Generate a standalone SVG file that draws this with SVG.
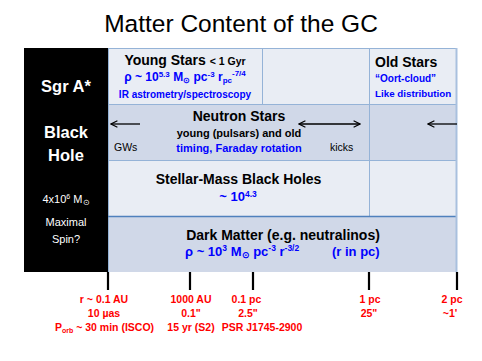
<svg xmlns="http://www.w3.org/2000/svg" width="482" height="361" viewBox="0 0 482 361">
<defs>
<style>
text{font-family:"Liberation Sans",Arial,sans-serif}
.b{font-weight:bold}
.blk{fill:#000}
.blu{fill:#0000ff;font-weight:bold}
.red{fill:#ff0000;font-weight:bold;font-size:10.5px;text-anchor:middle}
.wht{fill:#fff}
.lt{fill:#e9edf4}
.dk{fill:#d0d8e8}
.grid{stroke:#95b3d7;stroke-width:1;fill:none}
.tick{stroke:#000;stroke-width:2.2}
.arr{stroke:#000;stroke-width:1.3;fill:none}
.m{text-anchor:middle}
</style>
<marker id="ah" viewBox="0 0 10 10" refX="9" refY="5" markerWidth="8" markerHeight="8" orient="auto-start-reverse" markerUnits="userSpaceOnUse">
<path d="M1,1 L9,5 L1,9" fill="none" stroke="#000" stroke-width="1.4"/>
</marker>
</defs>
<rect width="482" height="361" fill="#fff"/>
<text x="241" y="32" font-size="24.5" text-anchor="middle" fill="#000">Matter Content of the GC</text>

<g id="table-bg">
<rect class="lt" x="108" y="48" width="349" height="57"/>
<rect class="dk" x="108" y="105" width="349" height="56"/>
<rect class="lt" x="108" y="161" width="349" height="55"/>
<rect class="dk" x="108" y="216" width="349" height="56"/>
<path class="grid" d="M24,48.5H457 M108,104.5H457 M108,160.5H457 M262.5,48V105 M369.5,48V216 M24.5,48V272 M108.5,48V272"/>
<path d="M108,216.5H457" stroke="#4f81bd" stroke-width="1.5"/>
<path d="M456.5,48V272" stroke="#a9c0de" stroke-width="2"/>
</g>

<g id="sgr-a">
<rect x="24" y="48" width="84" height="224" fill="#000"/>
<text class="wht b m" x="66" y="92" font-size="16.5">Sgr A*</text>
<text class="wht b m" x="66" y="138" font-size="16.5">Black</text>
<text class="wht b m" x="66" y="161" font-size="16.5">Hole</text>
<text class="wht m" x="66" y="203" font-size="11">4x10<tspan font-size="7" dy="-4">6</tspan><tspan dy="4"> M</tspan><tspan font-size="8" dy="2">⊙</tspan></text>
<text class="wht m" x="66" y="226" font-size="11">Maximal</text>
<text class="wht m" x="66" y="243" font-size="11">Spin?</text>
</g>

<g id="young-stars">
<text class="blk b m" x="185" y="65" font-size="14">Young Stars <tspan font-size="10.5">&lt; 1 Gyr</tspan></text>
<text class="blu m" x="185" y="81" font-size="12">ρ ~ 10<tspan font-size="8" dy="-4">5.3</tspan><tspan dy="4"> M</tspan><tspan font-size="8" dy="2">⊙</tspan><tspan dy="-2"> pc</tspan><tspan font-size="8" dy="-4">-3</tspan><tspan dy="4"> r</tspan><tspan font-size="8" dy="2">pc</tspan><tspan font-size="8" dy="-7">-7/4</tspan></text>
<text class="blu m" x="185" y="98" font-size="10">IR astrometry/spectroscopy</text>
</g>

<g id="old-stars">
<text class="blk b" x="375" y="67" font-size="14">Old Stars</text>
<text class="blu" x="375" y="82" font-size="10">“Oort-cloud”</text>
<text class="blu" x="375" y="97" font-size="9.8">Like distribution</text>
</g>

<g id="neutron-stars">
<text class="blk b m" x="239" y="121" font-size="14">Neutron Stars</text>
<text class="blk b m" x="239" y="137" font-size="11">young (pulsars) and old</text>
<text class="blu m" x="239" y="152" font-size="11">timing, Faraday rotation</text>
<text class="blk" x="114" y="151" font-size="10.5">GWs</text>
<text class="blk" x="330" y="151" font-size="10.5">kicks</text>
</g>

<g id="stellar-bh">
<text class="blk b m" x="238.5" y="184" font-size="14">Stellar-Mass Black Holes</text>
<text class="blu m" x="238" y="201" font-size="13">~ 10<tspan font-size="8.5" dy="-4">4.3</tspan></text>
</g>

<g id="dark-matter">
<text class="blk b m" x="283" y="240" font-size="14">Dark Matter (e.g. neutralinos)</text>
<text class="blu" x="185" y="256" font-size="13">ρ ~ 10<tspan font-size="8.5" dy="-5">3</tspan><tspan dy="5"> M</tspan><tspan font-size="9" dy="2">⊙</tspan><tspan dy="-2"> pc</tspan><tspan font-size="8.5" dy="-5">-3</tspan><tspan dy="5"> r</tspan><tspan font-size="8.5" dy="-5">-3/2</tspan></text>
<text class="blu" x="332" y="256" font-size="13">(r in pc)</text>
</g>

<g id="connectors">
<path class="arr" d="M111,124H140" marker-start="url(#ah)"/>
<path class="arr" d="M299,124H360" marker-start="url(#ah)" marker-end="url(#ah)"/>
<path class="arr" d="M428,124H457" marker-start="url(#ah)"/>
<path class="tick" d="M108,272V290 M190,272V290 M253,272V290 M369,272V290 M457,272V290"/>
</g>

<g id="scale-labels">
<text class="red" x="104" y="303">r ~ 0.1 AU</text>
<text class="red" x="104" y="317">10 µas</text>
<text class="red" x="104.5" y="331">P<tspan font-size="7" dy="2">orb</tspan><tspan dy="-2"> ~ 30 min  (ISCO)</tspan></text>
<text class="red" x="191" y="303">1000 AU</text>
<text class="red" x="191" y="317">0.1"</text>
<text class="red" x="191" y="331">15 yr (S2)</text>
<text class="red" x="246.5" y="303">0.1 pc</text>
<text class="red" x="248" y="317">2.5"</text>
<text class="red" x="262" y="331">PSR J1745-2900</text>
<text class="red" x="370" y="303">1 pc</text>
<text class="red" x="369" y="317">25"</text>
<text class="red" x="452" y="303">2 pc</text>
<text class="red" x="450" y="317">~1'</text>
</g>
</svg>
